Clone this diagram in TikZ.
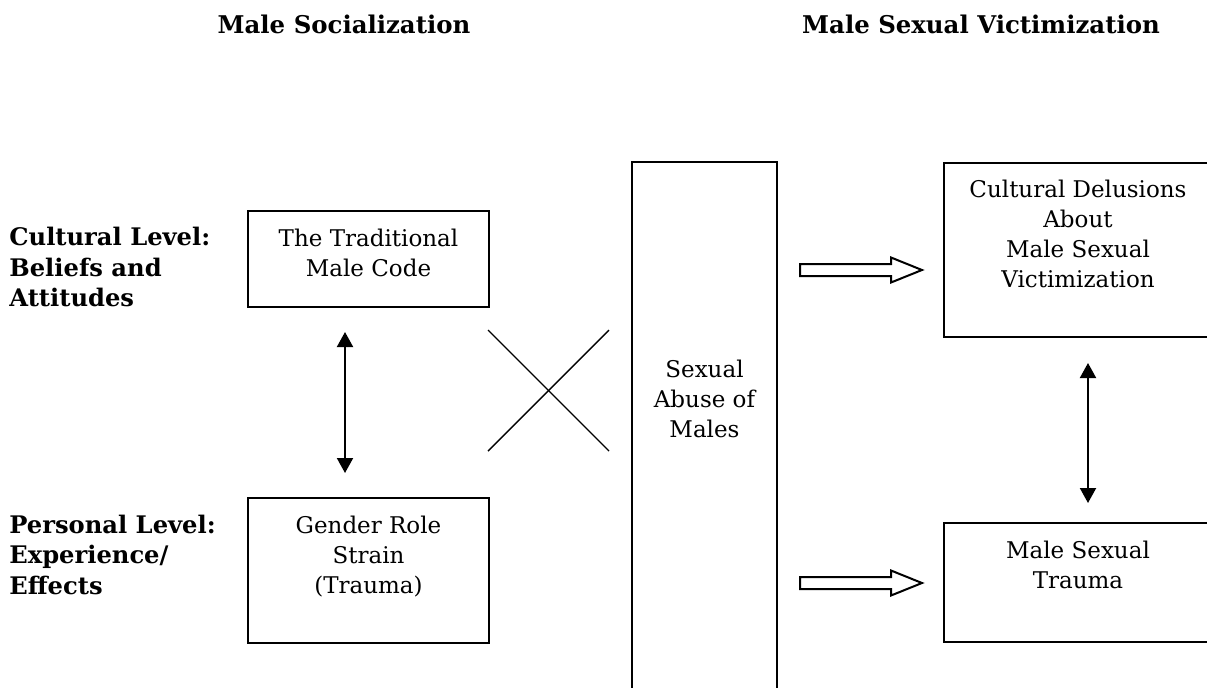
\documentclass[tikz,border=0pt]{standalone}
\usepackage{fontspec}
\setmainfont{DejaVu Serif}
\usetikzlibrary{arrows.meta}
\tikzset{
  boxnode/.style={draw=black, line width=1pt, inner sep=0pt},
  boxtext/.style={align=center, anchor=north, inner sep=0pt,
                  font=\fontsize{11.5}{15}\selectfont},
  lvltext/.style={align=left, anchor=north west, inner sep=0pt,
                  font=\fontsize{12.1}{15.2}\selectfont\bfseries},
  headtext/.style={anchor=base, inner sep=0pt,
                   font=\fontsize{12.2}{15}\selectfont\bfseries},
  twoway/.style={line width=1pt,
                 {Triangle[length=7.5pt,width=8pt]}-{Triangle[length=7.5pt,width=8pt]}},
  crossline/.style={line width=0.7pt},
  hollow/.style={line width=1pt, draw=black, fill=white, line join=miter}
}

\begin{document}
\begin{tikzpicture}[x=0.5pt, y=-0.5pt]
  \useasboundingbox (0,0) rectangle (1207,687);
  \clip (0,0) rectangle (1207,687);
  % headings
  \node[headtext] (hsoc) at (344,33) {Male Socialization};
  \node[headtext] (hvic) at (981,33) {Male Sexual Victimization};
  % level labels
  \node[lvltext] (lcult) at (9,227) {Cultural Level:\\Beliefs and\\Attitudes};
  \node[lvltext] (lpers) at (9,514.5) {Personal Level:\\Experience/\\Effects};
  % socialization boxes
  \node[boxnode, minimum width=120.5pt, minimum height=48pt] (code) at (368.5,259) {};
  \node[boxtext] (codetxt) at (368.5,228.5) {The Traditional\\Male Code};
  \node[boxnode, minimum width=120.5pt, minimum height=72.5pt] (strain) at (368.5,570.5) {};
  \node[boxtext] (straintxt) at (368.5,515.5) {Gender Role\\Strain\\(Trauma)};
  % abuse column
  \node[boxnode, minimum width=72.5pt, minimum height=279pt] (abuse) at (704.5,441) {};
  \node[boxtext] (abusetxt) at (704.5,359.5) {Sexual\\Abuse of\\Males};
  % victimization boxes
  \node[boxnode, minimum width=134pt, minimum height=87pt] (delus) at (1078,250) {};
  \node[boxtext] (delustxt) at (1078,180) {Cultural Delusions\\About\\Male Sexual\\Victimization};
  \node[boxnode, minimum width=134pt, minimum height=59.5pt] (trauma) at (1078,582.5) {};
  \node[boxtext] (traumatxt) at (1078,540.5) {Male Sexual\\Trauma};
  % two-way arrows
  \coordinate (lup) at (345,332);
  \coordinate (ldn) at (345,473);
  \coordinate (rup) at (1088,363);
  \coordinate (rdn) at (1088,503);
  \draw[twoway] (lup) -- (ldn);
  \draw[twoway] (rup) -- (rdn);
  % the cross
  \coordinate (xa) at (488,330);
  \coordinate (xb) at (609,451);
  \coordinate (xc) at (609,330);
  \coordinate (xd) at (488,451);
  \draw[crossline] (xa) -- (xb);
  \draw[crossline] (xc) -- (xd);
  % block arrows
  \foreach \ay in {270,583} {
    \draw[hollow] (800,\ay-6) -- (891,\ay-6) -- (891,\ay-12.5) -- (922,\ay)
      -- (891,\ay+12.5) -- (891,\ay+6) -- (800,\ay+6) -- cycle;
  }
\end{tikzpicture}
\end{document}
